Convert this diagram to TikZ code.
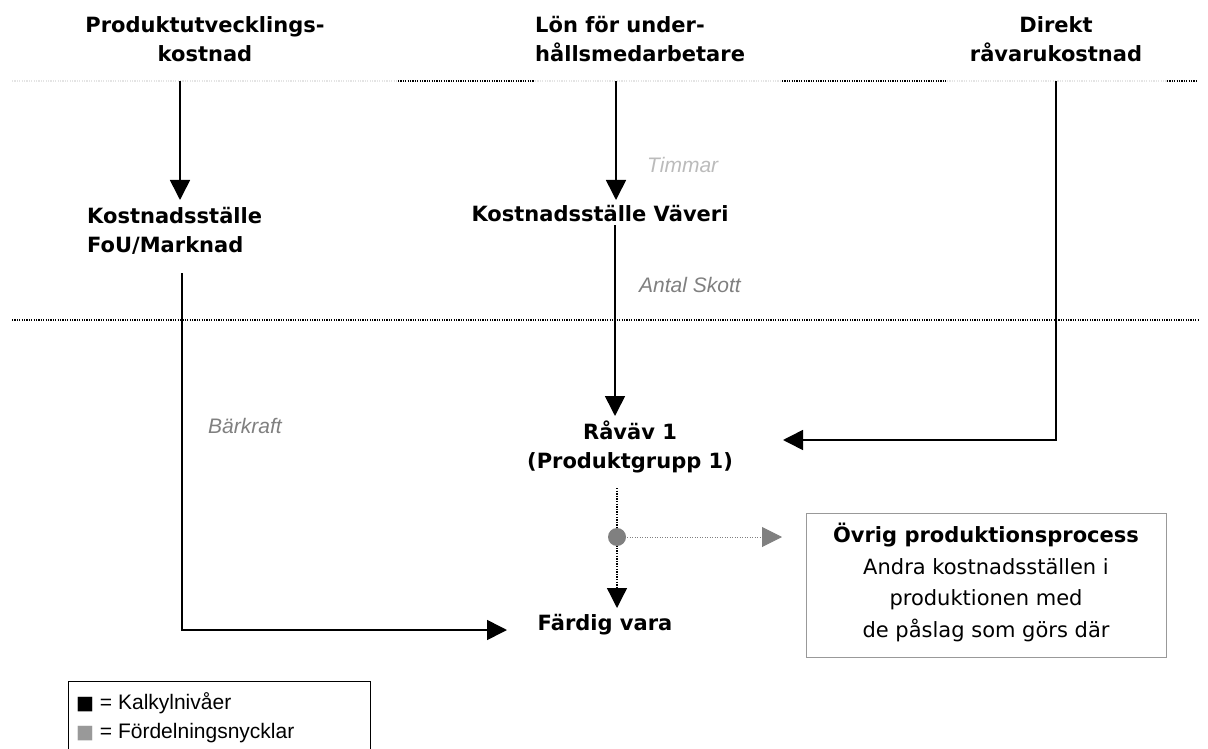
\documentclass[tikz,border=0pt]{standalone}
\usepackage{fontspec}
\setmainfont{DejaVu Sans}
\newfontfamily\arialf{Liberation Sans}
\usetikzlibrary{arrows.meta}
\definecolor{lbl}{HTML}{808080}
\definecolor{lightlbl}{HTML}{BBBBBB}
\definecolor{faint}{HTML}{E4E4E4}
\definecolor{boxgray}{HTML}{999999}
\tikzset{
  heading/.style={font=\fontsize{21}{29}\selectfont\bfseries, inner sep=0pt, anchor=base},
  plaintext/.style={font=\fontsize{21}{31.5}\selectfont, inner sep=0pt, anchor=base},
  keylabel/.style={font=\fontsize{21}{25}\selectfont\arialf\itshape, text=lbl, inner sep=0pt, anchor=base west},
  legendtext/.style={font=\fontsize{21}{29}\selectfont\arialf, inner sep=0pt, anchor=base west},
  flow/.style={line width=1.6pt, -{Triangle[length=20pt,width=20pt]}},
  dotline/.style={line width=1.3pt, dash pattern=on 1.2pt off 1.2pt},
}
\begin{document}
\begin{tikzpicture}[x=1pt,y=-1pt]
\useasboundingbox (0,0) rectangle (1208,749);
% separator lines
\draw[dotline, faint] (12,81) -- (398,81);
\draw[dotline] (398,81) -- (535,81);
\draw[dotline, faint] (535,81) -- (782,81);
\draw[dotline] (782,81) -- (947,81);
\draw[dotline, faint] (947,81) -- (1167,81);
\draw[dotline] (1167,81) -- (1198,81);
\draw[dotline] (12,320) -- (1198,320);
% nodes (base anchor = baseline of the last line)
\node[heading, align=center] (pk) at (205,62) {Produktutvecklings-\\kostnad};
\node[heading, align=left, anchor=base west] (lon) at (535,62) {Lön för under-\\hållsmedarbetare};
\node[heading, align=center] (dir) at (1056,62) {Direkt\\råvarukostnad};
\node[heading, align=left, anchor=base west] (fou) at (87,252) {Kostnadsställe\\FoU/Marknad};
\node[heading] (vav) at (600,222) {Kostnadsställe Väveri};
\node[heading, align=center] (rav) at (630,468) {Råväv 1\\(Produktgrupp 1)};
\node[heading] (fard) at (605,630) {Färdig vara};
\node[draw=boxgray, line width=1pt, minimum width=360pt, minimum height=144pt, inner sep=0pt, anchor=north west] (ovr) at (806,513) {};
\node[plaintext, align=center] (ovrtext) at (986,637) {\textbf{Övrig produktionsprocess}\\Andra kostnadsställen i\\produktionen med\\de påslag som görs där};
% key labels
\node[keylabel, text=lightlbl] (tim) at (647,172) {Timmar};
\node[keylabel] (ant) at (639,292) {Antal Skott};
\node[keylabel] (bar) at (208,433) {Bärkraft};
% connector end points
\coordinate (s1) at (180,81);
\coordinate (e1) at (180,200);
\coordinate (s2) at (616,81);
\coordinate (e2) at (616,200);
\coordinate (s3) at (615,225);
\coordinate (e3) at (615,416);
\coordinate (s4) at (1056,81);
\coordinate (c4) at (1056,440);
\coordinate (e4) at (783,440);
\coordinate (s5) at (182,273);
\coordinate (c5) at (182,630);
\coordinate (e5) at (507,630);
\coordinate (s6) at (617,488);
\coordinate (e6) at (617,608);
\coordinate (dot) at (617,537);
\coordinate (e7) at (782,537);
% connectors
\draw[flow] (s1) -- (e1);
\draw[flow] (s2) -- (e2);
\draw[flow] (s3) -- (e3);
\draw[flow] (s4) -- (c4) -- (e4);
\draw[flow] (s5) -- (c5) -- (e5);
\draw[line width=1.3pt, dash pattern=on 1.3pt off 1.3pt, -{Triangle[length=20pt,width=20pt]}] (s6) -- (e6);
\draw[lbl, line width=1pt, dash pattern=on 1pt off 1.5pt, -{Triangle[length=20pt,width=20pt]}] (dot) -- (e7);
\fill[lbl] (dot) circle (9pt);
% legend
\draw[line width=1pt] (68,749) |- (370,681) -- (370,749);
\node[legendtext] (k1) at (76,709) {{\rmfamily\fontsize{19}{19}\selectfont ■} = Kalkylnivåer};
\node[legendtext] (k2) at (76,738) {{\rmfamily\fontsize{19}{19}\selectfont\textcolor{boxgray}{■}} = Fördelningsnycklar};
\end{tikzpicture}
\end{document}
